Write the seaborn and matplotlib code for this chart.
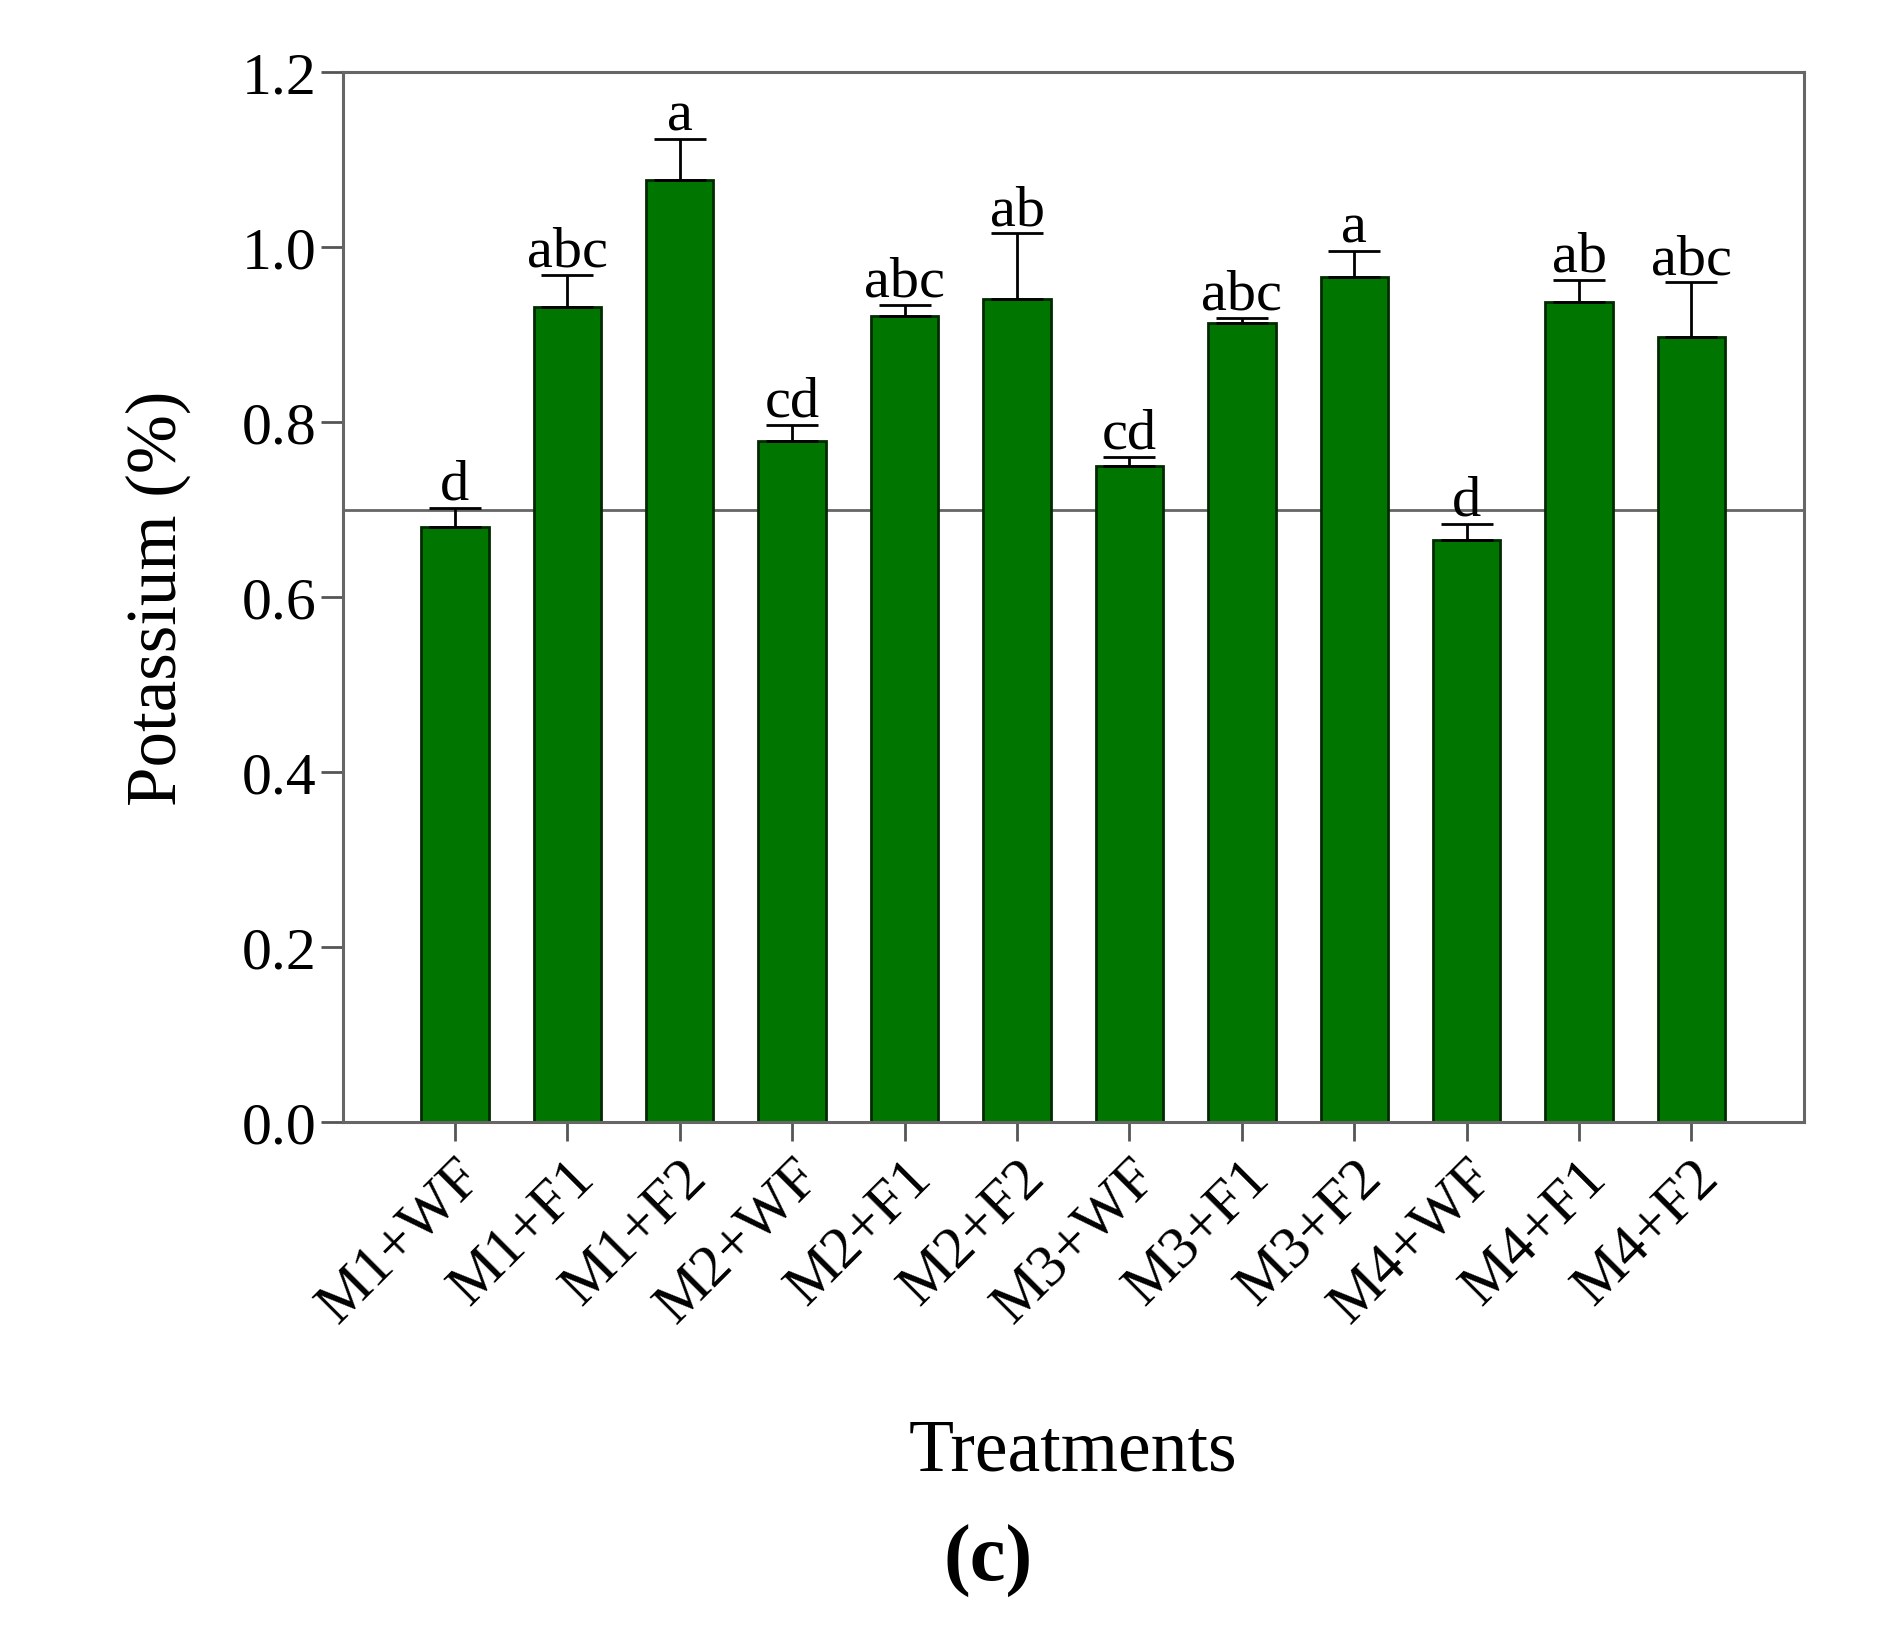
import matplotlib
matplotlib.use('Agg')
import matplotlib.pyplot as plt
import numpy as np
import pandas as pd
import seaborn as sns

# Dados
treatments = ['M1+WF', 'M1+F1', 'M1+F2', 'M2+WF', 'M2+F1', 'M2+F2',
              'M3+WF', 'M3+F1', 'M3+F2', 'M4+WF', 'M4+F1', 'M4+F2']
potassium = [0.680, 0.932, 1.077, 0.779, 0.922, 0.941,
             0.750, 0.914, 0.966, 0.665, 0.938, 0.897]
std_err = [0.022, 0.037, 0.047, 0.018, 0.012, 0.075,
           0.010, 0.005, 0.030, 0.019, 0.025, 0.063]
letters = ['d', 'abc', 'a', 'cd', 'abc', 'ab', 'cd', 'abc', 'a', 'd', 'ab', 'abc']
ref_level = 0.7

df = pd.DataFrame({'treatment': treatments, 'value': potassium, 'err': std_err})

sns.set_style('white')
plt.rcParams['font.family'] = ['Liberation Serif', 'DejaVu Serif']
plt.rcParams['text.color'] = 'black'
plt.rcParams['axes.labelcolor'] = 'black'
plt.rcParams['xtick.labelcolor'] = 'black'
plt.rcParams['ytick.labelcolor'] = 'black'

fig = plt.figure(figsize=(18.82, 16.33), dpi=100)
ax = fig.add_axes([0.182, 0.3123, 0.7765, 0.6427])

sns.barplot(data=df, x='treatment', y='value', color='#007500', saturation=1,
            width=0.6, edgecolor='#002a00', linewidth=2, errorbar=None, ax=ax, zorder=2)

# Barras de erro só para cima
x = np.arange(len(treatments))
ax.errorbar(x, df['value'], yerr=[np.zeros(len(x)), df['err']], fmt='none',
            ecolor='black', elinewidth=2, capsize=19, capthick=2, zorder=3)

# Letras de significância
for xi, v, e, lab in zip(x, potassium, std_err, letters):
    ax.text(xi, v + e - 0.003, lab, ha='center', va='bottom', fontsize=42, zorder=4)

# Linha de referência
ax.axhline(ref_level, color='#666666', linewidth=2, zorder=1)

ax.set_xlim(-1, 12)
ax.set_ylim(0, 1.2)
ax.set_yticks(np.arange(0, 1.21, 0.2))
ax.set_yticklabels([f'{t:.1f}' for t in np.arange(0, 1.21, 0.2)], fontsize=43)
ax.set_xticks(x)
ax.set_xticklabels(treatments, rotation=45, ha='right', rotation_mode='anchor', fontsize=43)

ax.tick_params(axis='y', direction='out', length=16, width=2, color='#555555',
               left=True, pad=3)
ax.tick_params(axis='x', direction='out', length=14, width=2, color='#555555',
               bottom=True, pad=6)
for s in ax.spines.values():
    s.set_color('#666666')
    s.set_linewidth(2.2)

ax.set_ylabel('Potassium (%)', fontsize=51)
ax.yaxis.set_label_coords(-0.104, 0.5)
ax.set_xlabel('Treatments', fontsize=53)
ax.xaxis.set_label_coords(0.5, -0.282)

fig.text(0.525, 0.044, '(c)', ha='center', va='center', fontsize=58, fontweight='bold')

fig.savefig('out.png', dpi=100)
